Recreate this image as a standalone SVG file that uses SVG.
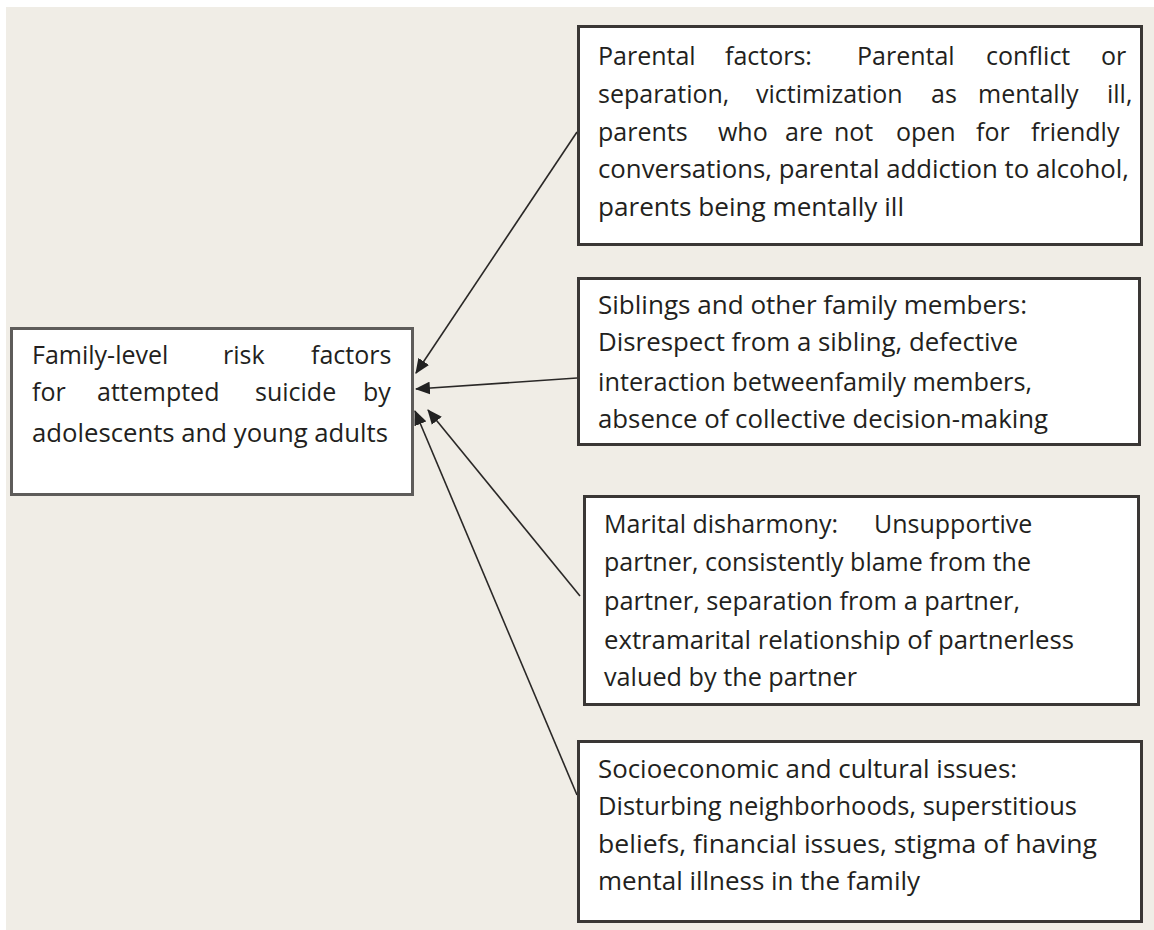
<svg xmlns="http://www.w3.org/2000/svg" width="1154" height="930" viewBox="0 0 1154 930">
  <style>
    .box { fill: #ffffff; stroke: #3a3735; stroke-width: 3; }
    .root { fill: #ffffff; stroke: #5e5c5a; stroke-width: 3; }
    .t { font-family: "Open Sans", "Noto Sans", "Liberation Sans", sans-serif; font-size: 25px; fill: #231f20; }
    .link { stroke: #2a2827; stroke-width: 1.6; fill: none; marker-end: url(#head); }
  </style>
  <defs>
    <marker id="head" viewBox="0 0 14 12" refX="13" refY="6" markerWidth="15" markerHeight="13" markerUnits="userSpaceOnUse" orient="auto">
      <path d="M0,0 L14,6 L0,12 z" fill="#222"/>
    </marker>
  </defs>

  <!-- page background -->
  <rect x="0" y="0" width="1154" height="930" fill="#ffffff"/>
  <rect x="6" y="7" width="1148" height="923" fill="#f0ede6"/>

  <!-- connectors: each factor group points back to the central box -->
  <g id="connectors">
    <line class="link" x1="577" y1="132" x2="416" y2="373"/>
    <line class="link" x1="577" y1="378" x2="416" y2="389"/>
    <line class="link" x1="580" y1="596" x2="428" y2="410"/>
    <line class="link" x1="577" y1="795" x2="415" y2="411"/>
  </g>

  <!-- central node -->
  <g id="family-risk">
    <rect class="root" x="11.5" y="328.5" width="401" height="166"/>
    <text class="t" y="364"><tspan x="32">Family-level</tspan><tspan x="223">risk</tspan><tspan x="311">factors</tspan></text>
    <text class="t" y="401"><tspan x="32">for</tspan><tspan x="97">attempted</tspan><tspan x="255">suicide</tspan><tspan x="363">by</tspan></text>
    <text class="t" x="32" y="442" textLength="356" lengthAdjust="spacingAndGlyphs">adolescents and young adults</text>
  </g>

  <!-- parental factors -->
  <g id="parental">
    <rect class="box" x="578.5" y="26.5" width="563" height="218"/>
    <text class="t" y="65"><tspan x="598">Parental</tspan><tspan x="725">factors:</tspan><tspan x="857">Parental</tspan><tspan x="986">conflict</tspan><tspan x="1101">or</tspan></text>
    <text class="t" y="103"><tspan x="598">separation,</tspan><tspan x="756">victimization</tspan><tspan x="931">as</tspan><tspan x="978">mentally</tspan><tspan x="1107">ill,</tspan></text>
    <text class="t" y="141"><tspan x="598">parents</tspan><tspan x="718">who</tspan><tspan x="785">are</tspan><tspan x="834">not</tspan><tspan x="896">open</tspan><tspan x="976">for</tspan><tspan x="1031">friendly</tspan></text>
    <text class="t" x="598" y="178" textLength="531" lengthAdjust="spacingAndGlyphs">conversations, parental addiction to alcohol,</text>
    <text class="t" x="598" y="216" textLength="306" lengthAdjust="spacingAndGlyphs">parents being mentally ill</text>
  </g>

  <!-- siblings and other family members -->
  <g id="siblings">
    <rect class="box" x="578.5" y="278.5" width="561" height="166"/>
    <text class="t" x="598" y="314" textLength="429" lengthAdjust="spacingAndGlyphs">Siblings and other family members:</text>
    <text class="t" x="598" y="351" textLength="420" lengthAdjust="spacingAndGlyphs">Disrespect from a sibling, defective</text>
    <text class="t" x="598" y="391" textLength="434" lengthAdjust="spacingAndGlyphs">interaction betweenfamily members,</text>
    <text class="t" x="598" y="428" textLength="450" lengthAdjust="spacingAndGlyphs">absence of collective decision-making</text>
  </g>

  <!-- marital disharmony -->
  <g id="marital">
    <rect class="box" x="584.5" y="496.5" width="554" height="208"/>
    <text class="t" y="533"><tspan x="604">Marital disharmony:</tspan><tspan x="874">Unsupportive</tspan></text>
    <text class="t" x="604" y="571" textLength="427" lengthAdjust="spacingAndGlyphs">partner, consistently blame from the</text>
    <text class="t" x="604" y="610" textLength="416" lengthAdjust="spacingAndGlyphs">partner, separation from a partner,</text>
    <text class="t" x="604" y="649" textLength="470" lengthAdjust="spacingAndGlyphs">extramarital relationship of partnerless</text>
    <text class="t" x="604" y="686" textLength="253" lengthAdjust="spacingAndGlyphs">valued by the partner</text>
  </g>

  <!-- socioeconomic and cultural issues -->
  <g id="socioeconomic">
    <rect class="box" x="578.5" y="741.5" width="563" height="180"/>
    <text class="t" x="598" y="778" textLength="419" lengthAdjust="spacingAndGlyphs">Socioeconomic and cultural issues:</text>
    <text class="t" x="598" y="815" textLength="479" lengthAdjust="spacingAndGlyphs">Disturbing neighborhoods, superstitious</text>
    <text class="t" x="598" y="853" textLength="499" lengthAdjust="spacingAndGlyphs">beliefs, financial issues, stigma of having</text>
    <text class="t" x="598" y="890" textLength="322" lengthAdjust="spacingAndGlyphs">mental illness in the family</text>
  </g>
</svg>
